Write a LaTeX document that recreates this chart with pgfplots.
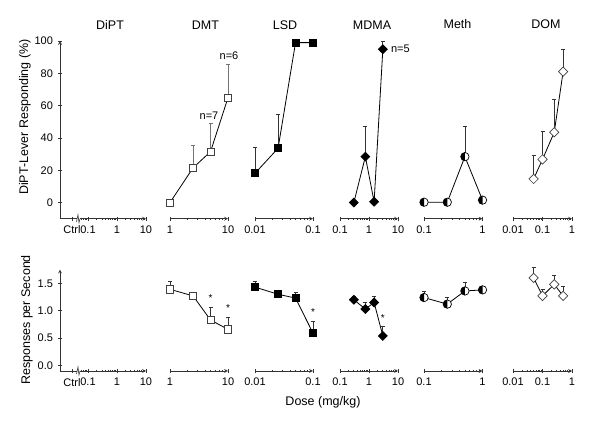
\documentclass[border=0pt]{standalone}
\usepackage{fontspec}
\setmainfont{Liberation Sans}
\usepackage{pgfplots}
\pgfplotsset{compat=1.18}
\pgfkeys{/pgf/number format/assume math mode=true}

\pgfdeclareplotmark{halfcirc}{%
  \pgfpathcircle{\pgfpointorigin}{\pgfplotmarksize}%
  \pgfsetfillcolor{white}\pgfusepathqfill
  \pgfpathmoveto{\pgfqpoint{0pt}{\pgfplotmarksize}}%
  \pgfpatharc{90}{270}{\pgfplotmarksize}%
  \pgfpathclose
  \pgfsetfillcolor{black}\pgfusepathqfill
  \pgfpathcircle{\pgfpointorigin}{\pgfplotmarksize}%
  \pgfusepathqstroke
}

\pgfplotsset{
  scale only axis, clip=false,
  axis line style={-, draw=black!80, line width=0.7pt},
  tick style={black!80, line width=0.7pt},
  tick align=outside,
  major tick length=4pt, minor tick length=2.2pt,
  tick label style={font=\fontsize{11}{13}\selectfont},
  xticklabel style={yshift=-1.5pt},
  yticklabel style={xshift=-1.5pt},
}

\begin{document}
\begin{tikzpicture}
\useasboundingbox (0,0) rectangle (600pt,423pt);

% titles
\begin{scope}[every node/.style={font=\fontsize{12.5}{15}\selectfont}]
\node at (110pt,398pt) {DiPT};
\node at (205.5pt,398pt) {DMT};
\node at (285pt,398pt) {LSD};
\node at (372pt,398pt) {MDMA};
\node at (457.5pt,398.5pt) {Meth};
\node at (546pt,398.5pt) {DOM};
\node[rotate=90] at (25pt,306pt) {DiPT-Lever Responding (\%)};
\node[rotate=90] at (27pt,103pt) {Responses per Second};
\node at (323pt,20.5pt) {Dose (mg/kg)};
\end{scope}

% ---------------- top row ----------------
\begin{axis}[xmode=log, log ticks with fixed point, axis x line=bottom, axis y line=left,
  at={(60pt,204.3pt)}, width=86pt, height=177.7pt,
  xmin=0.0108, xmax=10, ymin=-10, ymax=100,
  xtick={0.028,0.1,1,10}, xticklabels={Ctrl,0.1,1,10},
  minor xtick={0.06,0.07,0.08,0.09,0.2,0.3,0.4,0.5,0.6,0.7,0.8,0.9,2,3,4,5,6,7,8,9},
  ytick={0,20,40,60,80,100}]
\end{axis}

\begin{axis}[xmode=log, log ticks with fixed point, axis x line=bottom, axis y line=none, ytick=\empty,
  at={(170pt,204.3pt)}, width=58pt, height=177.7pt, xmin=1, xmax=10, ymin=-10, ymax=100,
  xtick={1,10}, minor xtick={2,3,4,5,6,7,8,9}]
\addplot[black, line width=0.8pt, mark=square*, mark size=3.6pt, mark options={fill=white, draw=black!75, line width=0.7pt},
  error bars/y dir=plus, error bars/y explicit,
  error bars/error bar style={black!55, line width=0.7pt},
  error bars/error mark options={black!55, line width=0.7pt, mark size=2pt, rotate=90}] coordinates {
 (1,0) +- (0,2) (2.5,21.5) +- (0,14.1) (5,31.5) +- (0,17.5) (10,64.9) +- (0,20.7)};
\node[font=\fontsize{11}{13}\selectfont] at (axis cs:4.7,53.6) {n=7};
\node[font=\fontsize{11}{13}\selectfont] at (axis cs:10.4,90.7) {n=6};
\end{axis}

\begin{axis}[xmode=log, log ticks with fixed point, axis x line=bottom, axis y line=none, ytick=\empty,
  at={(255pt,204.3pt)}, width=58pt, height=177.7pt, xmin=0.01, xmax=0.1, ymin=-10, ymax=100,
  xtick={0.01,0.1}, minor xtick={0.02,0.03,0.04,0.05,0.06,0.07,0.08,0.09}]
\addplot[black, line width=0.8pt, mark=square*, mark size=3.5pt, mark options={fill=black, draw=black},
  error bars/y dir=plus, error bars/y explicit,
  error bars/error bar style={black!80, line width=0.7pt},
  error bars/error mark options={black!80, line width=0.7pt, mark size=2pt, rotate=90}] coordinates {
 (0.01,18.1) +- (0,16.1) (0.025,33.6) +- (0,21) (0.05,99) +- (0,0) (0.1,99) +- (0,0)};
\end{axis}

\begin{axis}[xmode=log, log ticks with fixed point, axis x line=bottom, axis y line=none, ytick=\empty,
  at={(340pt,204.3pt)}, width=58pt, height=177.7pt, xmin=0.1, xmax=10, ymin=-10, ymax=100,
  xtick={0.1,1,10}, minor xtick={0.2,0.3,0.4,0.5,0.6,0.7,0.8,0.9,2,3,4,5,6,7,8,9}]
\addplot[black, line width=0.8pt, mark=square*, mark size=3.1pt, mark options={fill=black, draw=black, rotate=45},
  error bars/y dir=plus, error bars/y explicit,
  error bars/error bar style={black!80, line width=0.7pt},
  error bars/error mark options={black!80, line width=0.7pt, mark size=2pt, rotate=90}] coordinates {
 (0.3,0) +- (0,0) (0.75,28.4) +- (0,18.5) (1.5,0.5) +- (0,0) (3,94.9) +- (0,4.7)};
\node[font=\fontsize{11}{13}\selectfont, anchor=west, inner sep=0pt] at (axis cs:5.7,95) {n=5};
\end{axis}

\begin{axis}[xmode=log, log ticks with fixed point, axis x line=bottom, axis y line=none, ytick=\empty,
  at={(424pt,204.3pt)}, width=58.5pt, height=177.7pt, xmin=0.1, xmax=1, ymin=-10, ymax=100,
  xtick={0.1,1}, minor xtick={0.2,0.3,0.4,0.5,0.6,0.7,0.8,0.9}]
\addplot[black, line width=0.8pt, mark=halfcirc, mark size=4.2pt, mark options={draw=black, line width=0.7pt},
  error bars/y dir=plus, error bars/y explicit,
  error bars/error bar style={black!80, line width=0.7pt},
  error bars/error mark options={black!80, line width=0.7pt, mark size=2pt, rotate=90}] coordinates {
 (0.1,0.2) +- (0,0) (0.25,0.2) +- (0,0) (0.5,28.4) +- (0,18.5) (1,1.5) +- (0,0)};
\end{axis}

\begin{axis}[xmode=log, log ticks with fixed point, axis x line=bottom, axis y line=none, ytick=\empty,
  at={(513pt,204.3pt)}, width=59pt, height=177.7pt, xmin=0.01, xmax=1, ymin=-10, ymax=100,
  xtick={0.01,0.1,1}, minor xtick={0.02,0.03,0.04,0.05,0.06,0.07,0.08,0.09,0.2,0.3,0.4,0.5,0.6,0.7,0.8,0.9}]
\addplot[black, line width=0.8pt, mark=square*, mark size=3.3pt, mark options={fill=white, draw=black!75, line width=0.7pt, rotate=45},
  error bars/y dir=plus, error bars/y explicit,
  error bars/error bar style={black!80, line width=0.7pt},
  error bars/error mark options={black!80, line width=0.7pt, mark size=2pt, rotate=90}] coordinates {
 (0.05,14.6) +- (0,14.4) (0.1,26.7) +- (0,17.1) (0.25,43.5) +- (0,20.4) (0.5,81) +- (0,13.9)};
\end{axis}

% ---------------- bottom row ----------------
\begin{axis}[xmode=log, log ticks with fixed point, axis x line=bottom, axis y line=left,
  at={(60pt,52pt)}, width=86pt, height=101.4pt,
  xmin=0.0108, xmax=10, ymin=-0.1, ymax=1.75,
  xtick={0.028,0.1,1,10}, xticklabels={Ctrl,0.1,1,10},
  minor xtick={0.06,0.07,0.08,0.09,0.2,0.3,0.4,0.5,0.6,0.7,0.8,0.9,2,3,4,5,6,7,8,9},
  ytick={0,0.5,1,1.5},
  yticklabel style={/pgf/number format/fixed, /pgf/number format/fixed zerofill, /pgf/number format/precision=1}]
\end{axis}

\begin{axis}[xmode=log, log ticks with fixed point, axis x line=bottom, axis y line=none, ytick=\empty,
  at={(170pt,52pt)}, width=58pt, height=101.4pt, xmin=1, xmax=10, ymin=-0.1, ymax=1.75,
  xtick={1,10}, minor xtick={2,3,4,5,6,7,8,9}]
\addplot[black, line width=0.8pt, mark=square*, mark size=3.6pt, mark options={fill=white, draw=black!75, line width=0.7pt},
  error bars/y dir=plus, error bars/y explicit,
  error bars/error bar style={black!80, line width=0.7pt},
  error bars/error mark options={black!80, line width=0.7pt, mark size=2pt, rotate=90}] coordinates {
 (1,1.39) +- (0,0.15) (2.5,1.27) +- (0,0.03) (5,0.83) +- (0,0.23) (10,0.66) +- (0,0.22)};
\node[font=\fontsize{10}{12}\selectfont] at ([yshift=-2pt]axis cs:5,1.27) {*};
\node[font=\fontsize{10}{12}\selectfont] at ([yshift=-2pt]axis cs:10,1.09) {*};
\end{axis}

\begin{axis}[xmode=log, log ticks with fixed point, axis x line=bottom, axis y line=none, ytick=\empty,
  at={(255pt,52pt)}, width=58pt, height=101.4pt, xmin=0.01, xmax=0.1, ymin=-0.1, ymax=1.75,
  xtick={0.01,0.1}, minor xtick={0.02,0.03,0.04,0.05,0.06,0.07,0.08,0.09}]
\addplot[black, line width=0.8pt, mark=square*, mark size=3.5pt, mark options={fill=black, draw=black},
  error bars/y dir=plus, error bars/y explicit,
  error bars/error bar style={black!80, line width=0.7pt},
  error bars/error mark options={black!80, line width=0.7pt, mark size=2pt, rotate=90}] coordinates {
 (0.01,1.43) +- (0,0.11) (0.025,1.30) +- (0,0) (0.05,1.23) +- (0,0.11) (0.1,0.59) +- (0,0.21)};
\node[font=\fontsize{10}{12}\selectfont] at ([yshift=-2pt]axis cs:0.1,1.01) {*};
\end{axis}

\begin{axis}[xmode=log, log ticks with fixed point, axis x line=bottom, axis y line=none, ytick=\empty,
  at={(340pt,52pt)}, width=58pt, height=101.4pt, xmin=0.1, xmax=10, ymin=-0.1, ymax=1.75,
  xtick={0.1,1,10}, minor xtick={0.2,0.3,0.4,0.5,0.6,0.7,0.8,0.9,2,3,4,5,6,7,8,9}]
\addplot[black, line width=0.8pt, mark=square*, mark size=3.1pt, mark options={fill=black, draw=black, rotate=45},
  error bars/y dir=plus, error bars/y explicit,
  error bars/error bar style={black!80, line width=0.7pt},
  error bars/error mark options={black!80, line width=0.7pt, mark size=2pt, rotate=90}] coordinates {
 (0.3,1.20) +- (0,0.07) (0.75,1.03) +- (0,0.12) (1.5,1.15) +- (0,0.11) (3,0.54) +- (0,0.17)};
\node[font=\fontsize{10}{12}\selectfont] at ([yshift=-2pt]axis cs:3,0.90) {*};
\end{axis}

\begin{axis}[xmode=log, log ticks with fixed point, axis x line=bottom, axis y line=none, ytick=\empty,
  at={(424pt,52pt)}, width=58.5pt, height=101.4pt, xmin=0.1, xmax=1, ymin=-0.1, ymax=1.75,
  xtick={0.1,1}, minor xtick={0.2,0.3,0.4,0.5,0.6,0.7,0.8,0.9}]
\addplot[black, line width=0.8pt, mark=halfcirc, mark size=4.2pt, mark options={draw=black, line width=0.7pt},
  error bars/y dir=plus, error bars/y explicit,
  error bars/error bar style={black!80, line width=0.7pt},
  error bars/error mark options={black!80, line width=0.7pt, mark size=2pt, rotate=90}] coordinates {
 (0.1,1.24) +- (0,0.11) (0.25,1.12) +- (0,0.12) (0.5,1.36) +- (0,0.16) (1,1.38) +- (0,0.07)};
\end{axis}

\begin{axis}[xmode=log, log ticks with fixed point, axis x line=bottom, axis y line=none, ytick=\empty,
  at={(513pt,52pt)}, width=59pt, height=101.4pt, xmin=0.01, xmax=1, ymin=-0.1, ymax=1.75,
  xtick={0.01,0.1,1}, minor xtick={0.02,0.03,0.04,0.05,0.06,0.07,0.08,0.09,0.2,0.3,0.4,0.5,0.6,0.7,0.8,0.9}]
\addplot[black, line width=0.8pt, mark=square*, mark size=3.3pt, mark options={fill=white, draw=black!75, line width=0.7pt, rotate=45},
  error bars/y dir=plus, error bars/y explicit,
  error bars/error bar style={black!80, line width=0.7pt},
  error bars/error mark options={black!80, line width=0.7pt, mark size=2pt, rotate=90}] coordinates {
 (0.05,1.60) +- (0,0.20) (0.1,1.27) +- (0,0.12) (0.25,1.48) +- (0,0.17) (0.5,1.27) +- (0,0.17)};
\end{axis}

% axis breaks (decoration)
\foreach \yy in {204.3,52} {
  \fill[white] (76.5pt,\yy pt-1pt) rectangle (80pt,\yy pt+1pt);
  \draw[black!80, line width=0.6pt] (76.5pt,\yy pt-3pt) -- (78pt,\yy pt+4pt) -- (79pt,\yy pt-4pt) -- (80pt,\yy pt);
}

\end{tikzpicture}
\end{document}
